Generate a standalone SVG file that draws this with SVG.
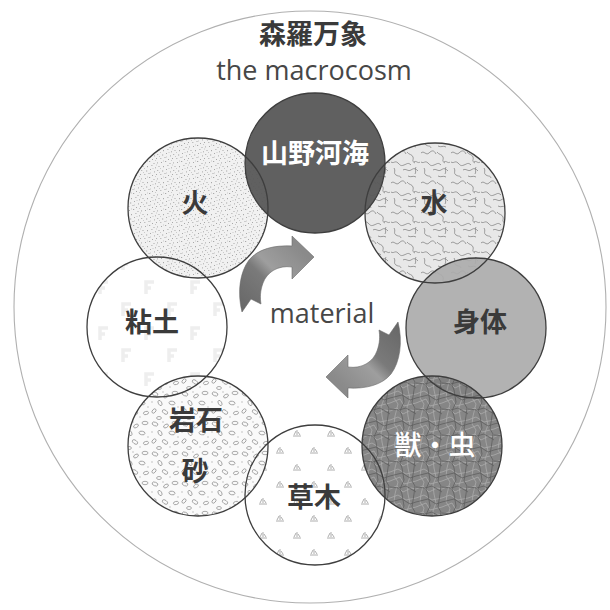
<svg xmlns="http://www.w3.org/2000/svg" width="610" height="610" viewBox="0 0 610 610">
<style>
.outer{fill:none;stroke:#b0b0b0;stroke-width:1.1}
.disc{stroke:none}
.ring{fill:none;stroke:#3e3e3e;stroke-width:1.3}
.lbl{font-family:"Noto Sans CJK JP","Noto Sans CJK SC",sans-serif;font-weight:bold;font-size:27px;text-anchor:middle;fill:#3a3a3a}
.wht{fill:#ffffff}
.thin{font-weight:500}
.en{font-family:"Open Sans","Noto Sans",sans-serif;text-anchor:middle;fill:#474747}
.arrow{stroke:#6a6a6a;stroke-width:0.6}
</style>
<defs>
<pattern id="p-fire" width="16" height="16" patternUnits="userSpaceOnUse">
<rect width="16" height="16" fill="#efefef"/>
<g fill="#a0a0a0">
<rect x="1" y="2" width="1" height="1"/><rect x="5" y="1" width="1.2" height="1"/><rect x="9.5" y="3" width="1" height="1"/><rect x="13" y="2.4" width="1" height="1"/>
<rect x="3" y="6" width="1" height="1.2"/><rect x="7.4" y="5" width="1" height="1"/><rect x="11" y="7.3" width="1" height="1"/><rect x="14.5" y="6" width="1" height="1"/>
<rect x="2" y="10.5" width="1.2" height="1"/><rect x="6" y="9" width="1" height="1"/><rect x="10" y="11.4" width="1" height="1"/><rect x="13.2" y="10" width="1" height="1"/>
<rect x="0.3" y="14" width="1" height="1"/><rect x="4.5" y="13" width="1" height="1"/><rect x="8" y="15" width="1" height="1"/><rect x="12" y="14" width="1" height="1"/>
</g>
<g fill="#c4c4c4">
<rect x="3" y="0.5" width="1" height="1"/><rect x="11" y="0" width="1" height="1"/><rect x="0" y="8" width="1" height="1"/><rect x="8.5" y="8" width="1" height="1"/><rect x="15" y="12" width="1" height="1"/><rect x="6" y="12.5" width="1" height="1"/><rect x="12" y="4.5" width="1" height="1"/>
</g>
</pattern>
<pattern id="p-water" width="30" height="30" patternUnits="userSpaceOnUse">
<rect width="30" height="30" fill="#e8e8e8"/>
<g fill="none" stroke="#858585" stroke-width="0.8">
<path d="M1,3 c3,-3 5,3 8,0 s5,-3 7,1"/>
<path d="M17,2 c2,3 5,2 6,5 s-2,4 2,6"/>
<path d="M1,12 c3,2 4,-2 7,1 s3,3 6,2 s4,-3 7,0"/>
<path d="M24,12 c2,-2 4,2 6,0"/>
<path d="M4,18 c2,3 -1,5 2,7 s4,0 5,3"/>
<path d="M13,20 c3,-2 5,2 8,0 s4,-2 7,1"/>
<path d="M18,26 c3,2 5,-1 8,1"/>
<path d="M26,17 c-2,3 1,4 -1,7"/>
</g>
</pattern>
<pattern id="p-beast" width="26" height="26" patternUnits="userSpaceOnUse">
<rect width="26" height="26" fill="#7e7e7e"/>
<g fill="none" stroke="#a6a6a6" stroke-width="0.8">
<path d="M0,4 L8,1 L16,6 L26,4"/><path d="M0,13 L10,9 L14,16 L26,13"/><path d="M0,21 L7,18 L13,24 L21,20 L26,21"/>
<path d="M5,0 L4,8 L8,14 L5,26"/><path d="M18,0 L20,9 L17,17 L18,26"/>
</g>
<g fill="none" stroke="#545454" stroke-width="0.8">
<path d="M0,8 L12,5 L20,10 L26,8"/><path d="M0,19 L9,20 L16,18 L26,24"/><path d="M12,0 L14,12 L10,21 L12,26"/><path d="M24,0 L22,13 L25,18 L24,26"/>
</g>
</pattern>
<pattern id="p-grass" width="34" height="34" patternUnits="userSpaceOnUse">
<rect width="34" height="34" fill="#ffffff"/>
<g fill="none" stroke="#a4a4a4" stroke-width="0.9">
<path d="M5,10 L7,6 M8,10 L8,5 M11,10 L9,7 M4,11 L12,11"/>
<path d="M22,27 L24,23 M25,27 L25,22 M28,27 L26,24 M21,28 L29,28"/>
</g>
</pattern>
<pattern id="p-stone" width="30" height="30" patternUnits="userSpaceOnUse">
<rect width="30" height="30" fill="#fafafa"/>
<g fill="none" stroke="#8a8a8a" stroke-width="0.8">
<ellipse cx="5" cy="4" rx="3" ry="1.8" transform="rotate(20 5 4)"/>
<ellipse cx="16" cy="6" rx="2.6" ry="1.6" transform="rotate(-30 16 6)"/>
<ellipse cx="25" cy="3" rx="3" ry="1.7"/>
<ellipse cx="10" cy="13" rx="2.8" ry="1.7" transform="rotate(60 10 13)"/>
<ellipse cx="22" cy="13" rx="3" ry="1.8" transform="rotate(10 22 13)"/>
<ellipse cx="4" cy="21" rx="2.5" ry="1.6" transform="rotate(-50 4 21)"/>
<ellipse cx="15" cy="22" rx="3" ry="1.8" transform="rotate(35 15 22)"/>
<ellipse cx="26" cy="23" rx="2.6" ry="1.6" transform="rotate(-15 26 23)"/>
<ellipse cx="9" cy="28" rx="2.4" ry="1.5"/>
</g>
<g fill="#aaaaaa"><circle cx="13" cy="2" r="0.7"/><circle cx="20" cy="27" r="0.7"/><circle cx="2" cy="12" r="0.7"/><circle cx="28" cy="17" r="0.7"/></g>
</pattern>
<pattern id="p-clay" width="46" height="46" patternUnits="userSpaceOnUse">
<rect width="46" height="46" fill="#ffffff"/>
<g fill="none" stroke="#eeeeee" stroke-width="3.5">
<path d="M8,18 V6 H16 M8,12 H13"/>
<path d="M31,40 V28 H39 M31,34 H36"/>
</g>
</pattern>
<linearGradient id="g-arrow" gradientUnits="userSpaceOnUse" x1="242" y1="308" x2="300" y2="250">
<stop offset="0" stop-color="#686868"/>
<stop offset="0.45" stop-color="#7a7a7a"/>
<stop offset="0.6" stop-color="#9e9e9e"/>
<stop offset="1" stop-color="#8a8a8a"/>
</linearGradient>
</defs>
<rect width="610" height="610" fill="#ffffff"/>
<circle class="outer" cx="310" cy="307" r="296"/>
<g id="title">
<text class="lbl" x="313" y="44" font-size="26">森羅万象</text>
<text class="en" x="314" y="80" font-size="27">the macrocosm</text>
</g>
<g id="node-nendo"><circle class="disc" cx="157" cy="327" r="70" fill="url(#p-clay)"/><text class="lbl" x="152" y="332">粘土</text></g>
<g id="node-kusaki"><circle class="disc" cx="315" cy="495" r="70" fill="url(#p-grass)"/><text class="lbl" x="314" y="507">草木</text></g>
<g id="node-ganseki"><circle class="disc" cx="198" cy="446" r="70" fill="url(#p-stone)" fill-opacity="0.9"/><text class="lbl" x="196" y="430">岩石</text><text class="lbl" x="195" y="481">砂</text></g>
<g id="node-hi"><circle class="disc" cx="198" cy="208" r="70" fill="url(#p-fire)" fill-opacity="0.9"/><text class="lbl" x="195" y="213" font-size="26">火</text></g>
<g id="node-mizu"><circle class="disc" cx="435" cy="213" r="70" fill="url(#p-water)"/><text class="lbl" x="434" y="213" font-size="28">水</text></g>
<g id="node-shintai"><circle class="disc" cx="476" cy="328" r="70" fill="#ababab" fill-opacity="0.92"/><text class="lbl" x="480" y="332">身体</text></g>
<g id="node-kemono"><circle class="disc" cx="432" cy="446" r="70" fill="url(#p-beast)" fill-opacity="0.94"/><text class="lbl wht thin" x="435" y="455" font-size="28">獣・虫</text></g>
<g id="node-sanyakakai"><circle class="disc" cx="315" cy="163" r="70" fill="#575757" fill-opacity="0.95"/><text class="lbl wht" x="315" y="163">山野河海</text></g>
<g id="outlines">
<circle class="ring" cx="157" cy="327" r="70"/>
<circle class="ring" cx="315" cy="495" r="70"/>
<circle class="ring" cx="198" cy="446" r="70"/>
<circle class="ring" cx="198" cy="208" r="70"/>
<circle class="ring" cx="435" cy="213" r="70"/>
<circle class="ring" cx="476" cy="328" r="70"/>
<circle class="ring" cx="432" cy="446" r="70"/>
<circle class="ring" cx="315" cy="163" r="70"/>
</g>
<g id="connectors">
<path class="arrow" fill="url(#g-arrow)" d="M292,246 L292,236 L314,257 L292,279 L292,267 C278,265 267,272 263,283 C260,291 260,298 261,304 L251,299 L242,312 C237,292 240,272 249,260 C258,249 274,245 292,246 Z"/>
<path class="arrow" fill="url(#g-arrow)" transform="rotate(180 320 317)" d="M292,246 L292,236 L314,257 L292,279 L292,267 C278,265 267,272 263,283 C260,291 260,298 261,304 L251,299 L242,312 C237,292 240,272 249,260 C258,249 274,245 292,246 Z"/>
</g>
<text class="en" x="322" y="323" font-size="27">material</text>
</svg>
